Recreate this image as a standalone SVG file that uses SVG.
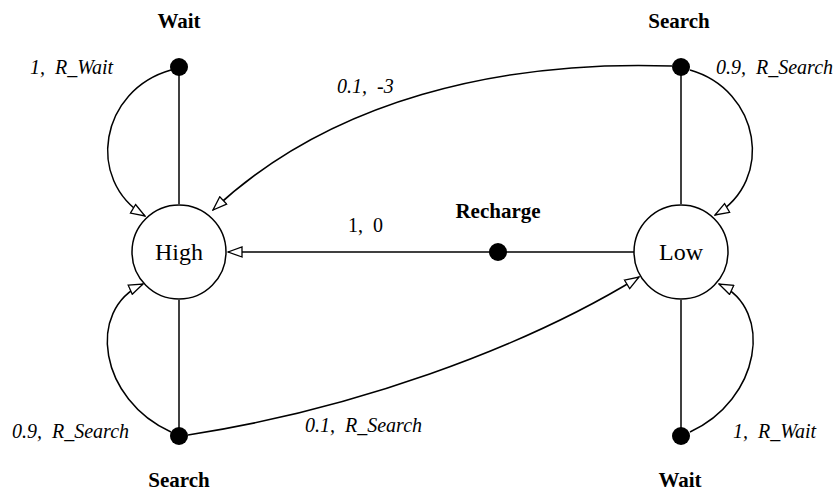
<svg xmlns="http://www.w3.org/2000/svg" width="836" height="492" viewBox="0 0 836 492" xml:space="preserve">
<style>
text { font-family: "Liberation Serif", "Times New Roman", serif; fill: #000; white-space: pre; }
.state { fill: #fff; stroke: #000; stroke-width: 1.5; }
.dot { fill: #000; }
.sname { font-size: 24px; text-anchor: middle; }
.aname { font-size: 21px; font-weight: bold; text-anchor: middle; }
.lbl { font-size: 20px; font-style: italic; }
.lblr { font-size: 20px; }
.edge { fill: none; stroke: #000; stroke-width: 1.5; }
.arr { marker-end: url(#open); }
</style>
<defs>
<marker id="open" markerUnits="userSpaceOnUse" markerWidth="16" markerHeight="12" refX="14" refY="5" orient="auto" viewBox="-1 -1 16 12">
<path d="M0,0 L14,5 L0,10 Z" fill="#fff" stroke="#000" stroke-width="1.3"/>
</marker>
</defs>
<g id="connectors">
<path class="edge" d="M179,67 L179,204"/>
<path class="edge arr" d="M171,70 C100,90 85,180 145,216"/>
<path class="edge" d="M681,67 L681,204"/>
<path class="edge arr" d="M690,70 C760,90 775,180 715,215"/>
<path class="edge arr" d="M672,66 C500,60 330,100 213,210"/>
<path class="edge arr" d="M634,252 L228,252"/>
<path class="edge" d="M179,436 L179,300"/>
<path class="edge arr" d="M171,432 C100,400 85,310 143,284"/>
<path class="edge arr" d="M188,435 C350,410 520,350 639,277"/>
<path class="edge" d="M681,436 L681,300"/>
<path class="edge arr" d="M690,432 C760,400 775,310 719,284"/>
</g>
<g id="node-high">
<circle class="state" cx="179" cy="252" r="47"/>
<text class="sname" x="179" y="260">High</text>
</g>
<g id="node-low">
<circle class="state" cx="681" cy="252" r="47"/>
<text class="sname" x="681" y="260">Low</text>
</g>
<g id="node-wait-high">
<circle class="dot" cx="179" cy="67" r="9"/>
<text class="aname" x="179" y="28">Wait</text>
</g>
<g id="node-search-low">
<circle class="dot" cx="681" cy="67" r="9"/>
<text class="aname" x="679" y="28">Search</text>
</g>
<g id="node-recharge">
<circle class="dot" cx="498" cy="252" r="9"/>
<text class="aname" x="498" y="218">Recharge</text>
</g>
<g id="node-search-high">
<circle class="dot" cx="179" cy="436" r="9"/>
<text class="aname" x="179" y="487">Search</text>
</g>
<g id="node-wait-low">
<circle class="dot" cx="681" cy="436" r="9"/>
<text class="aname" x="680" y="487">Wait</text>
</g>
<g id="labels">
<text class="lbl" x="30" y="74">1,  R_Wait</text>
<text class="lbl" x="716" y="74">0.9,  R_Search</text>
<text class="lbl" x="337" y="93">0.1,  -3</text>
<text class="lblr" x="348" y="232">1,  0</text>
<text class="lbl" x="12" y="438">0.9,  R_Search</text>
<text class="lbl" x="305" y="432">0.1,  R_Search</text>
<text class="lbl" x="733" y="438">1,  R_Wait</text>
</g>
</svg>
